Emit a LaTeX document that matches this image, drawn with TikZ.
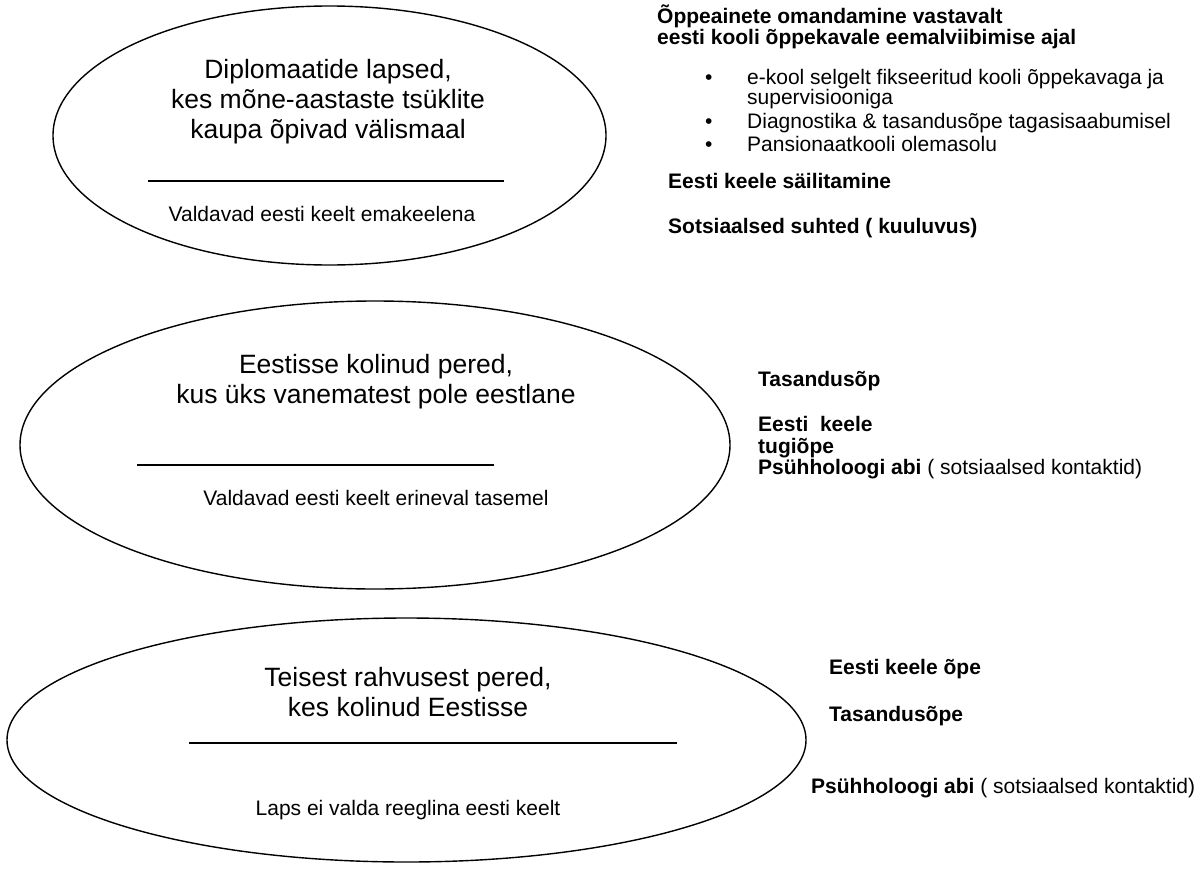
\documentclass[tikz,border=0pt]{standalone}
\usepackage{fontspec}
\setmainfont{Liberation Sans}
\usetikzlibrary{shapes.geometric}
\begin{document}
\begin{tikzpicture}[x=1pt,y=-1pt,
  oval/.style={ellipse,draw,line width=1.4pt,inner sep=0},
  head/.style={align=center,inner sep=0,font=\fontsize{26.5}{30}\selectfont},
  subtxt/.style={inner sep=0,font=\fontsize{21}{24}\selectfont},
  sepline/.style={line width=1.8pt},
  rt/.style={anchor=base west,inner sep=0,font=\fontsize{21}{22}\selectfont\bfseries},
  rn/.style={anchor=base west,inner sep=0,font=\fontsize{21}{22}\selectfont},
]
\useasboundingbox (0,0) rectangle (1204,870);
% ellipses
\node[oval,minimum width=553pt,minimum height=259pt] (e1) at (329.5,135.5) {};
\node[oval,minimum width=710pt,minimum height=288pt] (e2) at (375,445) {};
\node[oval,minimum width=799pt,minimum height=244pt] (e3) at (406.5,740) {};
% ellipse 1
\node[head] (h1) at (328,102) {Diplomaatide lapsed,\\kes mõne-aastaste tsüklite\\kaupa õpivad välismaal};
\coordinate (l1a) at (148,181); \coordinate (l1b) at (504,181);
\draw[sepline] (l1a) -- (l1b);
\node[subtxt] (s1) at (322,214) {Valdavad eesti keelt emakeelena};
% ellipse 2
\node[head] (h2) at (376,382) {Eestisse kolinud pered,\\kus üks vanematest pole eestlane};
\coordinate (l2a) at (137,465); \coordinate (l2b) at (494,465);
\draw[sepline] (l2a) -- (l2b);
\node[subtxt] (s2) at (376,498) {Valdavad eesti keelt erineval tasemel};
% ellipse 3
\node[head] (h3) at (408,692.5) {Teisest rahvusest pered,\\kes kolinud Eestisse};
\coordinate (l3a) at (189,743); \coordinate (l3b) at (677,743);
\draw[sepline] (l3a) -- (l3b);
\node[subtxt] (s3) at (408,810) {Laps ei valda reeglina eesti keelt};
% right texts, group 1
\node[rt] (r1) at (657,23.5) {Õppeainete omandamine vastavalt};
\node[rt] (r2) at (657,44.5) {eesti kooli õppekavale eemalviibimise ajal};
\node[rn] (b1) at (705,84.5) {•};
\node[rn] (t1) at (747,84.5) {e-kool selgelt fikseeritud kooli õppekavaga ja};
\node[rn] (t1b) at (747,104) {supervisiooniga};
\node[rn] (b2) at (705,128.5) {•};
\node[rn] (t2) at (747,128.5) {Diagnostika \& tasandusõpe tagasisaabumisel};
\node[rn] (b3) at (705,151) {•};
\node[rn] (t3) at (747,151) {Pansionaatkooli olemasolu};
\node[rt] (r3) at (668,188.5) {Eesti keele säilitamine};
\node[rt] (r4) at (668,233.5) {Sotsiaalsed suhted ( kuuluvus)};
% group 2
\node[rt] (r5) at (758,386.5) {Tasandusõp};
\node[rt] (r6) at (758,431.5) {Eesti\ \ keele};
\node[rt] (r7) at (758,453) {tugiõpe};
\node[rn] (r8) at (758,474.5) {\textbf{Psühholoogi abi} ( sotsiaalsed kontaktid)};
% group 3
\node[rt] (r9) at (829,674) {Eesti keele õpe};
\node[rt] (r10) at (829,721) {Tasandusõpe};
\node[rn] (r11) at (811,793) {\textbf{Psühholoogi abi} ( sotsiaalsed kontaktid)};
\end{tikzpicture}
\end{document}
